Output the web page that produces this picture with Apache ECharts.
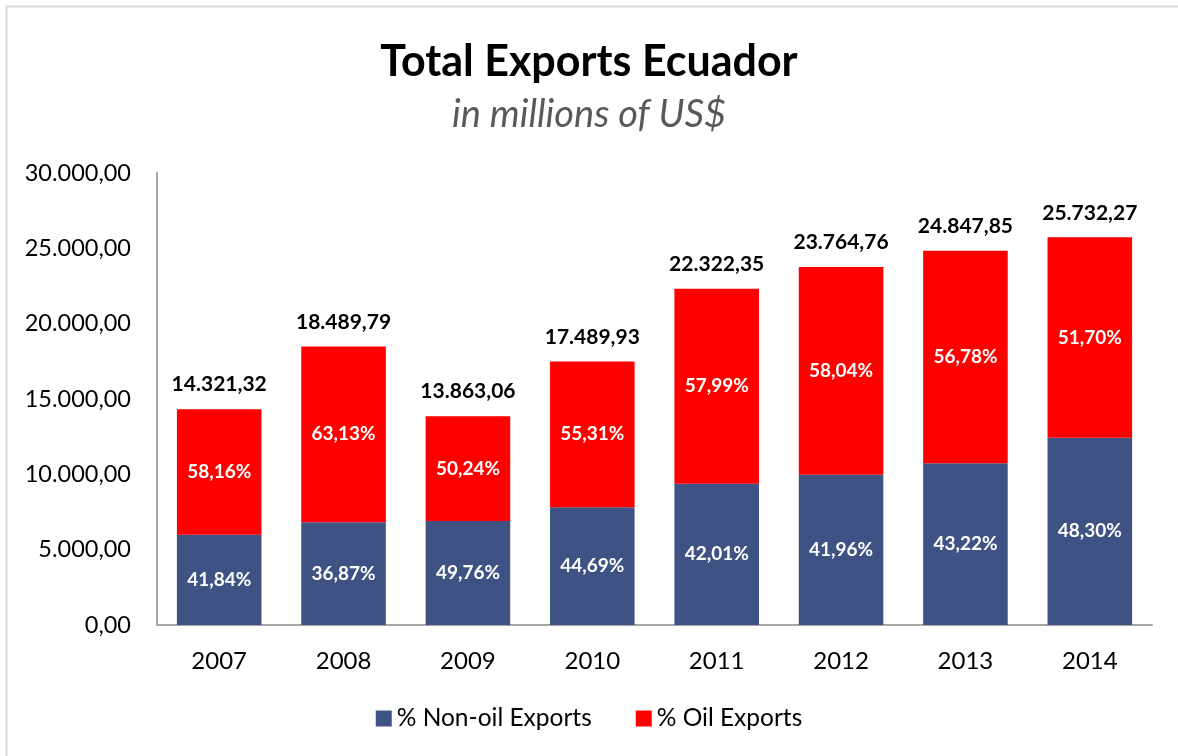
<!DOCTYPE html>
<html>
<head>
<meta charset="utf-8">
<script src="https://cdn.jsdelivr.net/npm/echarts@6/dist/echarts.min.js"></script>
<style>
  html, body { margin: 0; padding: 0; background: #fff; }
  #chart { width: 1178px; height: 756px; }
</style>
</head>
<body>
<div id="chart"></div>
<script>
const years = ['2007', '2008', '2009', '2010', '2011', '2012', '2013', '2014']
const totals = [14321.32, 18489.79, 13863.06, 17489.93, 22322.35, 23764.76, 24847.85, 25732.27]
const nonOilValues = [5992.04, 6817.19, 6898.26, 7816.25, 9377.62, 9971.69, 10739.24, 12428.69]
const oilValues = [8329.28, 11672.60, 6964.80, 9673.68, 12944.73, 13793.07, 14108.61, 13303.58]
const nonOilPct = ['41,84%', '36,87%', '49,76%', '44,69%', '42,01%', '41,96%', '43,22%', '48,30%']
const oilPct = ['58,16%', '63,13%', '50,24%', '55,31%', '57,99%', '58,04%', '56,78%', '51,70%']
const yTicks = [0, 5000, 10000, 15000, 20000, 25000, 30000]

const font = 'Lato, "Open Sans", sans-serif'

// 12345.6 -> "12.345,60"
function fmt(v) {
  const [i, d] = v.toFixed(2).split('.')
  return i.replace(/\B(?=(\d{3})+(?!\d))/g, '.') + ',' + d
}

const chart = echarts.init(document.getElementById('chart'))

const pctLabel = arr => ({
  show: true, position: 'inside', color: '#fff', fontWeight: 'bold', fontSize: 19, fontFamily: font,
  formatter: p => arr[p.dataIndex]
})

chart.setOption({
  animation: false,
  textStyle: { fontFamily: font },
  graphic: [{
    type: 'rect',
    shape: { x: 6.5, y: 6.5, width: 1200, height: 800 },
    style: { fill: 'none', stroke: '#d9d9d9', lineWidth: 2 },
    silent: true
  }],
  title: {
    text: 'Total Exports Ecuador',
    subtext: 'in millions of US$',
    left: 'center',
    top: 36,
    itemGap: 12,
    textStyle: { fontFamily: font, fontSize: 43, fontWeight: 'bold', color: '#000' },
    subtextStyle: { fontFamily: font, fontSize: 38, fontStyle: 'italic', color: '#595959' }
  },
  legend: {
    bottom: 20,
    left: 'center',
    itemWidth: 16,
    itemHeight: 16,
    itemGap: 44,
    icon: 'rect',
    data: ['% Non-oil Exports', '% Oil Exports'],
    textStyle: { fontFamily: font, fontSize: 24.5, color: '#000' }
  },
  grid: { left: 157, right: 26, top: 173, bottom: 131 },
  xAxis: {
    type: 'category',
    data: years,
    axisLine: { lineStyle: { color: '#a6a6a6', width: 2 } },
    axisTick: { show: false },
    axisLabel: { fontFamily: font, fontSize: 24, color: '#000', margin: 24 }
  },
  yAxis: {
    type: 'value',
    min: yTicks[0],
    max: yTicks[yTicks.length - 1],
    interval: yTicks[1] - yTicks[0],
    splitLine: { show: false },
    axisLine: { show: true, lineStyle: { color: '#a6a6a6', width: 2 } },
    axisTick: { show: false },
    axisLabel: { fontFamily: font, fontSize: 23.5, color: '#000', margin: 26, formatter: v => fmt(v) }
  },
  series: [
    {
      name: '% Non-oil Exports',
      type: 'bar',
      stack: 'total',
      barWidth: '68%',
      data: nonOilValues,
      itemStyle: { color: '#3f5284' },
      label: pctLabel(nonOilPct)
    },
    {
      name: '% Oil Exports',
      type: 'bar',
      stack: 'total',
      data: oilValues,
      itemStyle: { color: '#ff0000' },
      label: pctLabel(oilPct)
    },
    {
      name: 'Total',
      type: 'bar',
      stack: 'total',
      data: totals.map(() => 0),
      itemStyle: { color: 'transparent' },
      silent: true,
      label: {
        show: true, position: 'top', distance: 14, color: '#000', fontWeight: 'bold', fontSize: 21, fontFamily: font,
        formatter: p => fmt(totals[p.dataIndex])
      }
    }
  ]
})
</script>
</body>
</html>
